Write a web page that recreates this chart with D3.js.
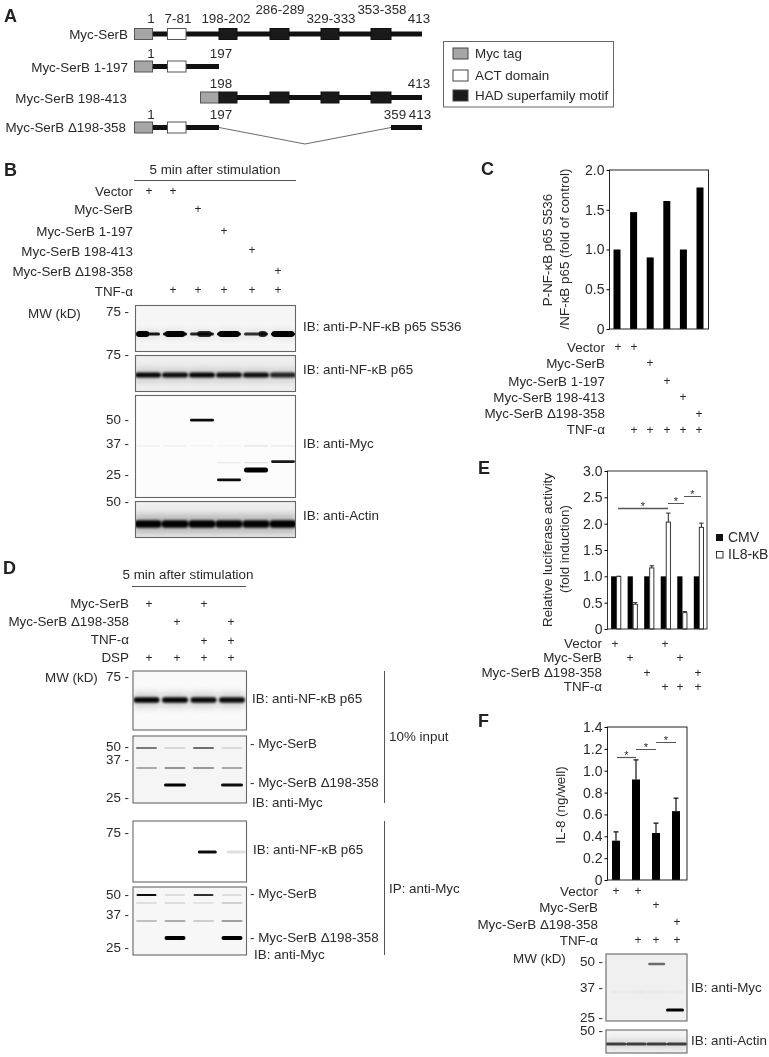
<!DOCTYPE html>
<html>
<head>
<meta charset="utf-8">
<script src="https://cdnjs.cloudflare.com/ajax/libs/d3/7.8.5/d3.min.js"></script>
<style>
  html, body { margin: 0; padding: 0; background: #fff; }
  svg { display: block; will-change: transform; }
  text { font-family: "Liberation Sans", Arial, sans-serif; font-size: 13.4px; fill: #2a2a2a; }
  .letter { font-size: 18px; font-weight: bold; fill: #222; }
  .axis text { font-size: 14px; }
  .plus { font-size: 12px; text-anchor: middle; }
</style>
</head>
<body>
<svg id="fig" width="769" height="1057"></svg>
<script>
// ---- data ----
const constructNames = ["Myc-SerB", "Myc-SerB 1-197", "Myc-SerB 198-413", "Myc-SerB Δ198-358"];
const legendNames = ["Myc tag", "ACT domain", "HAD superfamily motif"];

const bRowNames = ["Vector", "Myc-SerB", "Myc-SerB 1-197", "Myc-SerB 198-413", "Myc-SerB Δ198-358", "TNF-α"];
const bMatrix = [[1,1,0,0,0,0],[0,0,1,0,0,0],[0,0,0,1,0,0],[0,0,0,0,1,0],[0,0,0,0,0,1],[0,1,1,1,1,1]];
const blotB1Levels = [0.9, 0.98, 0.85, 1, 0.8, 1];
const blotB1LobeWidth = [0.55, 0.85, 0.6, 0.9, 0.35, 0.95];
const blotB1LobeShift = [-0.22, 0, 0.1, 0, 0.28, 0];
const blotB1LobeLevels = [1, 1, 0.8, 1, 0.8, 1];
const blotB2Levels = [0.98, 0.95, 0.98, 0.95, 0.95, 0.85];
const blotB3Kd = [50.5, 23.8, 27, 30];
const blotB3Lanes = [2, 3, 4, 5];
const blotB3Levels = [0.95, 0.95, 1, 0.9];
const blotB3Faint37 = [0.05, 0.05, 0.04, 0.04, 0.1, 0.08];
const blotB3Faint30 = [0, 0, 0, 0.07, 0.1, 0];
const blotB4Levels = [1, 1, 1, 0.98, 0.98, 1];

const cValues = [1.0, 1.47, 0.9, 1.61, 1.0, 1.78];
const cTicks = [0, 0.5, 1.0, 1.5, 2.0];

const dRowNames = ["Myc-SerB", "Myc-SerB Δ198-358", "TNF-α", "DSP"];
const dMatrix = [[1,0,1,0],[0,1,0,1],[0,0,1,1],[1,1,1,1]];
const blotD1Levels = [0.98, 0.98, 0.95, 0.95];
const blotD2Upper = [0.5, 0.12, 0.55, 0.1];
const blotD2Middle = [0.3, 0.4, 0.38, 0.3];
const blotD2Lower = [0, 1, 0, 0.95];
const blotD3Levels = [0, 0, 0.95, 0.12];
const blotD4Upper = [0.95, 0.1, 0.8, 0.1];
const blotD4Faint = [0.12, 0.14, 0.1, 0.2];
const blotD4Middle = [0.22, 0.3, 0.16, 0.35];
const blotD4Lower = [0, 1, 0, 1];

const eCmv = [1, 1, 1, 1, 1, 1];
const eIl8 = [1.0, 0.47, 1.16, 2.03, 0.31, 1.93];
const eIl8Err = [0, 0.03, 0.04, 0.17, 0.02, 0.08];
const eTicks = [0, 0.5, 1.0, 1.5, 2.0, 2.5, 3.0];
const eRowNames = ["Vector", "Myc-SerB", "Myc-SerB Δ198-358", "TNF-α"];
const eMatrix = [[1,0,0,1,0,0],[0,1,0,0,1,0],[0,0,1,0,0,1],[0,0,0,1,1,1]];

const fValues = [0.36, 0.92, 0.43, 0.63];
const fErr = [0.08, 0.18, 0.09, 0.12];
const fTicks = [0, 0.2, 0.4, 0.6, 0.8, 1.0, 1.2, 1.4];
const fRowNames = ["Vector", "Myc-SerB", "Myc-SerB Δ198-358", "TNF-α"];
const fMatrix = [[1,1,0,0],[0,0,1,0],[0,0,0,1],[0,1,1,1]];
const blotF1Upper = [0, 0, 0.55, 0];
const blotF1Faint = [0.03, 0.05, 0.05, 0.04];
const blotF1Lower = [0, 0, 0, 1];
const blotF2Levels = [0.72, 0.72, 0.72, 0.72];

const svg = d3.select("#fig");
const defs = svg.append("defs");
[["blur1", 0.7], ["blur2", 1.2], ["blur3", 3.5]].forEach(([id, s]) => {
  defs.append("filter").attr("id", id)
    .attr("x", "-30%").attr("y", "-600%").attr("width", "160%").attr("height", "1300%")
    .append("feGaussianBlur").attr("stdDeviation", s);
});

function label(g, x, y, txt, anchor, cls) {
  return g.append("text").attr("x", x).attr("y", y).attr("text-anchor", anchor || "start")
    .attr("class", cls || null).text(txt);
}
function hline(g, x1, x2, y, color, w) {
  g.append("line").attr("x1", x1).attr("x2", x2).attr("y1", y).attr("y2", y)
    .attr("stroke", color || "#555").attr("stroke-width", w || 1);
}

// rows of "+" under a chart / above a blot
function plusRows(g, names, matrix, xPos, labelRight, baselines, plusYs) {
  names.forEach((n, i) => {
    label(g, labelRight, baselines[i], n, "end");
    g.selectAll(null).data(matrix[i].map((v, j) => ({ v, j })).filter(d => d.v))
      .enter().append("text").attr("class", "plus")
      .attr("x", d => xPos[d.j]).attr("y", plusYs[i] + 4).text("+");
  });
}

// ---- panel A: construct diagrams ----
const A = svg.append("g");
label(A, 4, 22, "A", "start", "letter");
const rowY = d3.scaleOrdinal().domain(constructNames).range([34, 66.5, 97.5, 127.5]);
const rowLabelY = [39, 72, 103, 132];
const rowLabelRight = [128, 128, 127, 126];
constructNames.forEach((n, i) => label(A, rowLabelRight[i], rowLabelY[i], n, "end"));

const domainColor = { myc: "#a6a6a6", act: "#fff", had: "#1a1a1a" };
function seg(y, x1, x2) {
  A.append("rect").attr("x", x1).attr("y", y - 2.5).attr("width", x2 - x1).attr("height", 5).attr("fill", "#111");
}
function box(y, x1, x2, kind) {
  A.append("rect").attr("x", x1).attr("y", y - 5.5).attr("width", x2 - x1).attr("height", 11)
    .attr("fill", domainColor[kind]).attr("stroke", kind === "had" ? "#111" : "#555").attr("stroke-width", 1);
}
const motifs = [[219, 237], [270, 289], [321, 339], [371, 391]];
let y0 = rowY(constructNames[0]);
seg(y0, 152, 422); box(y0, 134.5, 152.5, "myc"); box(y0, 167.5, 186, "act");
motifs.forEach(m => box(y0, m[0], m[1], "had"));
y0 = rowY(constructNames[1]);
seg(y0, 152, 219); box(y0, 134.5, 152.5, "myc"); box(y0, 167.5, 186, "act");
y0 = rowY(constructNames[2]);
seg(y0, 219, 422); box(y0, 200.5, 219, "myc");
motifs.forEach(m => box(y0, m[0], m[1], "had"));
y0 = rowY(constructNames[3]);
seg(y0, 152, 219); seg(y0, 391, 422); box(y0, 134.5, 152.5, "myc"); box(y0, 167.5, 186, "act");
A.append("path").attr("d", d3.line()([[219, y0], [305, 144], [391, y0]])).attr("fill", "none").attr("stroke", "#444").attr("stroke-width", 0.8);

[["1", 151, 23], ["7-81", 178, 23], ["198-202", 226, 23], ["286-289", 280, 14], ["329-333", 331, 23], ["353-358", 382, 14], ["413", 419, 23],
 ["1", 151, 58], ["197", 221, 58], ["198", 221, 88], ["413", 419, 88],
 ["1", 151, 119], ["197", 221, 119], ["359", 395, 119], ["413", 420, 119]]
  .forEach(d => label(A, d[1], d[2], d[0], "middle"));

A.append("rect").attr("x", 443.5).attr("y", 41.5).attr("width", 170).attr("height", 65.5).attr("fill", "none").attr("stroke", "#666");
[["myc", 48, 58], ["act", 70, 80], ["had", 90, 100]].forEach((d, i) => {
  A.append("rect").attr("x", 453).attr("y", d[1]).attr("width", 15).attr("height", 11)
    .attr("fill", domainColor[d[0]]).attr("stroke", "#444");
  label(A, 475, d[2], legendNames[i]);
});

// ---- blot helper ----
function makeBlot(x, y, w, h, bg) {
  const id = "clip" + x + "_" + y;
  defs.append("clipPath").attr("id", id).append("rect").attr("x", x).attr("y", y).attr("width", w).attr("height", h);
  const g = svg.append("g");
  g.append("rect").attr("x", x).attr("y", y).attr("width", w).attr("height", h).attr("fill", bg || "#fff");
  const inner = g.append("g").attr("clip-path", "url(#" + id + ")");
  g.append("rect").attr("x", x).attr("y", y).attr("width", w).attr("height", h)
    .attr("fill", "none").attr("stroke", "#666").attr("stroke-width", 1.1);
  return inner;
}
// one row of bands, level 0..1 is the darkness per lane
function bands(g, xScale, yPos, levels, width, thick, blur, halo) {
  const rows = levels.map((v, i) => ({ v, i })).filter(d => d.v > 0);
  if (halo) {
    g.selectAll(null).data(rows).enter().append("rect")
      .attr("x", d => xScale(d.i) - width / 2).attr("width", width)
      .attr("y", yPos - thick * 1.3).attr("height", thick * 2.6)
      .attr("fill", "#000").attr("opacity", d => d.v * halo).attr("filter", "url(#blur3)");
  }
  g.selectAll(null).data(rows).enter().append("rect")
    .attr("x", d => xScale(d.i) - width / 2).attr("width", width)
    .attr("y", yPos - thick / 2).attr("height", thick).attr("rx", thick / 2)
    .attr("fill", "#000").attr("opacity", d => d.v).attr("filter", "url(#" + (blur || "blur1") + ")");
}
function mwLabels(g, x, pairs) {
  pairs.forEach(p => label(g, x, p[1], p[0] + " -"));
}

// ---- panel B ----
const B = svg.append("g");
label(B, 4, 176, "B", "start", "letter");
label(B, 215, 174, "5 min after stimulation", "middle");
hline(B, 134, 296, 180.5);
plusRows(B, bRowNames, bMatrix, [149, 173, 198, 224, 252, 278], 133, [196, 214, 236, 256, 276, 296], [191, 209, 231, 250, 271, 290]);
label(B, 28, 318, "MW (kD)");
mwLabels(B, 106, [[75, 316], [75, 359], [50, 424], [37, 448], [25, 479], [50, 506]]);
[["IB: anti-P-NF-κB p65 S536", 331], ["IB: anti-NF-κB p65", 374], ["IB: anti-Myc", 448], ["IB: anti-Actin", 520]]
  .forEach(d => label(B, 303, d[1], d[0]));

const bLane = d3.scalePoint().domain(d3.range(6)).range([148, 283]);
const b1 = makeBlot(135.5, 305.5, 160, 46, "#f6f6f6");
bands(b1, bLane, 334, blotB1Levels, 24, 3, "blur1", 0.1);
// thicker part of each P-p65 band, the bands are not even along the lane
b1.selectAll(null).data(blotB1LobeWidth).enter().append("rect")
  .attr("x", (d, i) => bLane(i) + 24 * (blotB1LobeShift[i] - d / 2)).attr("width", d => 24 * d)
  .attr("y", 331).attr("height", 6).attr("rx", 3)
  .attr("fill", "#000").attr("opacity", (d, i) => blotB1LobeLevels[i]).attr("filter", "url(#blur1)");
const b2 = makeBlot(135.5, 355.5, 160, 36, "#eeeeee");
bands(b2, bLane, 375, blotB2Levels, 26, 5, "blur2", 0.15);
const b3 = makeBlot(135.5, 395.5, 160, 102, "#fcfcfc");
const mwB3 = d3.scaleLog().domain([25, 50]).range([476, 421]);
bands(b3, bLane, mwB3(37) + 1, blotB3Faint37, 24, 1.2);
bands(b3, bLane, mwB3(30) + 1, blotB3Faint30, 24, 1.2);
blotB3Kd.forEach((kd, i) => {
  const lv = [0, 0, 0, 0, 0, 0];
  lv[blotB3Lanes[i]] = blotB3Levels[i];
  bands(b3, bLane, mwB3(kd), lv, 24, i === 2 ? 5 : 2.8, "blur1", 0);
});
const b4 = makeBlot(135.5, 501.5, 160, 36, "#eeeeee");
bands(b4, bLane, 524, blotB4Levels, 27.5, 7.5, "blur2", 0.22);

// ---- panel C ----
const C = svg.append("g");
label(C, 481, 175, "C", "start", "letter");
const cX = d3.scalePoint().domain(d3.range(6)).range([617, 700]);
const cY = d3.scaleLinear().domain([0, 2]).range([329, 170]);
C.selectAll(null).data(cValues).enter().append("rect")
  .attr("x", (d, i) => cX(i) - 3.5).attr("width", 7)
  .attr("y", d => cY(d)).attr("height", d => cY(0) - cY(d)).attr("fill", "#000");
C.append("rect").attr("x", 609.5).attr("y", 170).attr("width", 99).attr("height", 159).attr("fill", "none").attr("stroke", "#222");
C.append("g").attr("class", "axis").attr("transform", "translate(609.5,0)")
  .call(d3.axisLeft(cY).tickValues(cTicks).tickSize(3).tickPadding(2).tickFormat(d => d === 0 ? "0" : d3.format(".1f")(d)))
  .call(g => g.select(".domain").remove());
function yTitle(g, x, y, txt) {
  g.append("text").attr("transform", "translate(" + x + "," + y + ") rotate(-90)").attr("text-anchor", "middle").text(txt);
}
yTitle(C, 552, 250, "P-NF-κB p65 S536");
yTitle(C, 569, 249, "/NF-κB p65 (fold of control)");
plusRows(C, bRowNames, bMatrix, [618, 634, 650, 667, 683, 699], 605, [352, 368, 386, 402, 418, 434], [347, 363, 381, 397, 414, 430]);

// ---- panel D ----
const D = svg.append("g");
label(D, 3, 574, "D", "start", "letter");
label(D, 188, 579, "5 min after stimulation", "middle");
hline(D, 132, 246, 586.5);
plusRows(D, dRowNames, dMatrix, [149, 177, 204, 231], 129, [608, 626, 644, 662], [604, 622, 641, 658]);
label(D, 45, 682, "MW (kD)");
mwLabels(D, 106, [[75, 681], [50, 751], [37, 764], [25, 802], [75, 837], [50, 899], [37, 919], [25, 952]]);
[["IB: anti-NF-κB p65", 252, 703], ["- Myc-SerB", 250, 748], ["- Myc-SerB Δ198-358", 250, 787], ["IB: anti-Myc", 252, 807],
 ["IB: anti-NF-κB p65", 253, 854], ["- Myc-SerB", 250, 898], ["- Myc-SerB Δ198-358", 250, 942], ["IB: anti-Myc", 254, 959]]
  .forEach(d => label(D, d[1], d[2], d[0]));
[[671, 803], [821, 955]].forEach(s => D.append("line").attr("x1", 384.5).attr("x2", 384.5).attr("y1", s[0]).attr("y2", s[1]).attr("stroke", "#555"));
label(D, 389, 741, "10% input");
label(D, 389, 893, "IP: anti-Myc");

const dLane = d3.scalePoint().domain(d3.range(4)).range([146.5, 232]);
const d1 = makeBlot(133, 671, 113.5, 59, "#f9f9f9");
bands(d1, dLane, 700, blotD1Levels, 26, 5.5, "blur2", 0.18);
const d2 = makeBlot(133, 736, 113.5, 67, "#f5f5f5");
bands(d2, dLane, 748, blotD2Upper, 21, 1.8);
bands(d2, dLane, 768, blotD2Middle, 21, 2);
bands(d2, dLane, 785, blotD2Lower, 22, 3);
const d3Blot = makeBlot(133, 821, 113.5, 61, "#fff");
const dLane3 = d3.scalePoint().domain(d3.range(4)).range([150, 236]);
bands(d3Blot, dLane3, 852, blotD3Levels, 19, 3);
const d4 = makeBlot(133, 887, 113.5, 68, "#f7f7f7");
bands(d4, dLane, 895, blotD4Upper, 20, 2.2);
bands(d4, dLane, 903, blotD4Faint, 21, 1.6);
bands(d4, dLane, 921, blotD4Middle, 21, 2.2);
bands(d4, dLane, 938, blotD4Lower, 21, 4);

// ---- panel E ----
const E = svg.append("g");
label(E, 478, 474, "E", "start", "letter");
const eX = d3.scalePoint().domain(d3.range(6)).range([616.3, 699]);
const eY = d3.scaleLinear().domain([0, 3]).range([629, 471]);
E.selectAll(null).data(eCmv).enter().append("rect")
  .attr("x", (d, i) => eX(i) - 5.2).attr("width", 5.2)
  .attr("y", d => eY(d)).attr("height", d => eY(0) - eY(d)).attr("fill", "#000");
E.selectAll(null).data(eIl8Err).enter().append("path")
  .attr("d", (d, i) => {
    const cx = eX(i) + 2.4, top = eY(eIl8[i] + d), base = eY(eIl8[i]);
    return "M" + cx + "," + base + "V" + top + "M" + (cx - 2.2) + "," + top + "H" + (cx + 2.2);
  }).attr("stroke", "#222").attr("fill", "none");
E.selectAll(null).data(eIl8).enter().append("rect")
  .attr("x", (d, i) => eX(i) + 0.3).attr("width", 4.2)
  .attr("y", d => eY(d)).attr("height", d => eY(0) - eY(d)).attr("fill", "#fff").attr("stroke", "#222").attr("stroke-width", 0.9);
E.append("rect").attr("x", 607.5).attr("y", 471).attr("width", 99.5).attr("height", 158).attr("fill", "none").attr("stroke", "#333");
E.append("g").attr("class", "axis").attr("transform", "translate(607.5,0)")
  .call(d3.axisLeft(eY).tickValues(eTicks).tickSize(3).tickPadding(2).tickFormat(d => d === 0 ? "0" : d3.format(".1f")(d)))
  .call(g => g.select(".domain").remove());
yTitle(E, 552, 550, "Relative luciferase activity");
yTitle(E, 569, 549, "(fold induction)");
function sig(g, x1, x2, y, w) {
  hline(g, x1, x2, y, "#555", w || 1);
  g.append("text").attr("x", (x1 + x2) / 2).attr("y", y + 1).attr("text-anchor", "middle").style("font-size", "11px").text("*");
}
sig(E, 618, 668, 508.5, 1.3);
sig(E, 668, 684, 503.5);
sig(E, 684, 701, 496.5);
E.append("rect").attr("x", 716).attr("y", 534).attr("width", 7).attr("height", 7).attr("fill", "#111");
E.append("rect").attr("x", 716.5).attr("y", 551.5).attr("width", 6.5).attr("height", 6.5).attr("fill", "#fff").attr("stroke", "#333");
label(E, 728, 542, "CMV").style("font-size", "14px");
label(E, 728, 559, "IL8-κB").style("font-size", "14px");
plusRows(E, eRowNames, eMatrix, [615, 630, 647, 665, 680, 698], 602, [648, 662, 677, 691], [644, 658, 673, 687]);

// ---- panel F ----
const F = svg.append("g");
label(F, 478, 727, "F", "start", "letter");
const fX = d3.scalePoint().domain(d3.range(4)).range([616, 676]);
const fY = d3.scaleLinear().domain([0, 1.4]).range([880, 727]);
F.selectAll(null).data(fErr).enter().append("path")
  .attr("d", (d, i) => {
    const top = fY(fValues[i] + d);
    return "M" + fX(i) + "," + fY(fValues[i]) + "V" + top + "M" + (fX(i) - 2.5) + "," + top + "H" + (fX(i) + 2.5);
  }).attr("stroke", "#111").attr("stroke-width", 1.2).attr("fill", "none");
F.selectAll(null).data(fValues).enter().append("rect")
  .attr("x", (d, i) => fX(i) - 4).attr("width", 8)
  .attr("y", d => fY(d)).attr("height", d => fY(0) - fY(d)).attr("fill", "#000");
F.append("rect").attr("x", 607.5).attr("y", 727).attr("width", 79.5).attr("height", 153).attr("fill", "none").attr("stroke", "#222");
F.append("g").attr("class", "axis").attr("transform", "translate(607.5,0)")
  .call(d3.axisLeft(fY).tickValues(fTicks).tickSize(3).tickPadding(2).tickFormat(d => d === 0 ? "0" : d3.format(".1f")(d)))
  .call(g => g.select(".domain").remove());
yTitle(F, 565, 805, "IL-8 (ng/well)");
sig(F, 617, 636, 757.5, 1.2);
sig(F, 636, 656, 749.5);
sig(F, 656, 676, 742.5);
plusRows(F, fRowNames, fMatrix, [616, 638, 656, 677], 598, [896, 912, 929, 945], [891, 905, 922, 940]);
label(F, 513, 963, "MW (kD)");
mwLabels(F, 580, [[50, 966], [37, 992], [25, 1022], [50, 1035]]);
label(F, 691, 992, "IB: anti-Myc");
label(F, 691, 1045, "IB: anti-Actin");

const fLane = d3.scalePoint().domain(d3.range(4)).range([620, 675]);
const f1 = makeBlot(606, 954, 81, 67, "#f0f0f0");
bands(f1, fLane, 964, blotF1Upper, 17, 2.4);
bands(f1, fLane, 992, blotF1Faint, 18, 2, "blur2");
bands(f1, fLane, 1010, blotF1Lower, 18, 3);
const f2 = makeBlot(606, 1030, 81, 23, "#f4f4f4");
bands(f2, d3.scalePoint().domain(d3.range(4)).range([616, 677]), 1044, blotF2Levels, 20.5, 3, "blur1", 0.2);
</script>
</body>
</html>
